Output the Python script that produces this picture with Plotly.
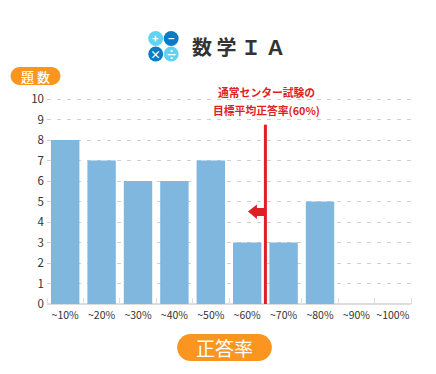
import plotly.graph_objects as go

categories = ["~10%", "~20%", "~30%", "~40%", "~50%", "~60%", "~70%", "~80%", "~90%", "~100%"]
values = [8, 7, 6, 6, 7, 3, 3, 5, 0, 0]
y_ticks = list(range(0, 11))
target_pos = 5.5          # boundary between ~60% and ~70%
target_top = 8.75
title_text = "数 学 Ｉ Ａ"
y_label = "題 数"
x_label = "正答率"
note_lines = ["通常センター試験の", "目標平均正答率(60%)"]

OFF = 8  # page body margin
W, H = 436, 374
# plot area in window pixels: x 46.5..411.5, y 98..304
L, T = 46.5 - OFF, 98 - OFF
R, B = W + OFF - 411.5, H + OFF - 304
PW, PH = W - L - R, H - T - B
FONT = "Noto Sans CJK JP"
ORANGE = "#fa9620"
RED = "#de1f26"

def px(x): return (x - OFF - L) / PW
def py(y): return 1 - (y - OFF - T) / PH

def pill(x0, y0, x1, y1):
    r = (y1 - y0) / 2
    k = r * 0.5523
    pts = [
        f"M {px(x0 + r)} {py(y0)}", f"L {px(x1 - r)} {py(y0)}",
        f"C {px(x1 - r + k)} {py(y0)} {px(x1)} {py(y0 + r - k)} {px(x1)} {py(y0 + r)}",
        f"C {px(x1)} {py(y0 + r + k)} {px(x1 - r + k)} {py(y1)} {px(x1 - r)} {py(y1)}",
        f"L {px(x0 + r)} {py(y1)}",
        f"C {px(x0 + r - k)} {py(y1)} {px(x0)} {py(y0 + r + k)} {px(x0)} {py(y0 + r)}",
        f"C {px(x0)} {py(y0 + r - k)} {px(x0 + r - k)} {py(y0)} {px(x0 + r)} {py(y0)} Z",
    ]
    return dict(type="path", xref="paper", yref="paper", path=" ".join(pts),
                fillcolor=ORANGE, line=dict(width=0), layer="above")

def circle(cx, cy, r, color):
    return dict(type="circle", xref="paper", yref="paper",
                x0=px(cx - r), x1=px(cx + r), y0=py(cy + r), y1=py(cy - r),
                fillcolor=color, line=dict(width=0), layer="above")

def text(x, y, s, size, color, weight=400):
    return dict(xref="paper", yref="paper", x=px(x), y=py(y), text=s, showarrow=False,
                xanchor="center", yanchor="middle",
                font=dict(family=FONT, size=size, color=color, weight=weight))

fig = go.Figure(go.Bar(x=list(range(len(categories))), y=values,
                       marker=dict(color="#7fb7de", line=dict(width=0)),
                       width=0.78, hoverinfo="skip"))

shapes = [
    dict(type="line", xref="x", yref="y", x0=target_pos, x1=target_pos, y0=0, y1=target_top,
         line=dict(color=RED, width=3), layer="above"),
    dict(type="path", xref="paper", yref="paper", layer="above", fillcolor=RED, line=dict(width=0),
         path=(f"M {px(248)} {py(211.5)} L {px(257)} {py(204.5)} L {px(257)} {py(208)} L {px(265)} {py(208)} "
               f"L {px(265)} {py(216)} L {px(257)} {py(216)} L {px(257)} {py(219)} Z")),
    pill(10, 67, 60, 85),
    pill(177, 334, 272, 361),
    circle(155.5, 38.5, 7.5, "#62d2f2"),
    circle(171, 38.5, 7.5, "#0a7cc4"),
    circle(155.5, 54, 7.5, "#0a7cc4"),
    circle(171, 54, 7.5, "#62d2f2"),
]
ticks_at = [i - 0.5 for i in range(len(categories) + 1)]

annotations = [
    text(155.5, 38, "+", 11, "white", 700),
    text(171, 38, "−", 11, "white", 700),
    text(155.5, 54, "×", 11, "white", 700),
    text(171, 54, "÷", 11, "white", 700),
    text(239, 46.5, title_text, 20, "#333333", 700),
    text(35, 76, y_label, 13, "white", 500),
    text(224.5, 347.5, x_label, 19, "white", 400),
    text(267, 92.5, note_lines[0], 10.8, RED, 700),
    text(267, 109.5, note_lines[1], 10.8, RED, 700),
]

fig.update_layout(
    width=W, height=H, autosize=False, showlegend=False,
    margin=dict(l=L, r=R, t=T, b=B, pad=0),
    paper_bgcolor="white", plot_bgcolor="white",
    font=dict(family=FONT, color="#333333"),
    shapes=shapes, annotations=annotations,
    xaxis=dict(range=[-0.5, len(categories) - 0.5], tickmode="array",
               tickvals=list(range(len(categories))), ticktext=categories,
               ticks="", showgrid=False, zeroline=False, showline=False,
               ticklabelstandoff=3,
               tickfont=dict(size=10.5, family=FONT, color="#333333"),
               minor=dict(tickmode="array", tickvals=ticks_at, ticks="inside", ticklen=6,
                          tickcolor="#dddddd", tickwidth=1, showgrid=False)),
    yaxis=dict(range=[0, 10.05], tickmode="array", tickvals=y_ticks, ticks="",
               gridcolor="#d0d0d0", griddash="4px,6px", gridwidth=1,
               zeroline=True, zerolinecolor="#dddddd", zerolinewidth=2, showline=False,
               ticklabelstandoff=2,
               tickfont=dict(size=11.5, family=FONT, color="#333333")),
)
fig.write_html("out.html")
